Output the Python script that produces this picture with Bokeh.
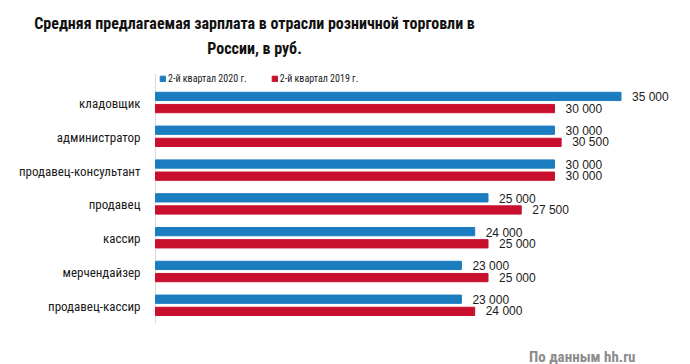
import numpy as np
from bokeh.plotting import figure
from bokeh.models import ColumnDataSource, Range1d, Label, Legend, LegendItem
from bokeh.core.properties import value
from bokeh.embed import file_html
from bokeh.resources import INLINE

categories = ["кладовщик", "администратор", "продавец-консультант", "продавец",
              "кассир", "мерчендайзер", "продавец-кассир"]
q2_2020 = [35000, 30000, 30000, 25000, 24000, 23000, 23000]
q2_2019 = [30000, 30500, 30000, 27500, 25000, 25000, 24000]
series_names = ["2-й квартал 2020 г.", "2-й квартал 2019 г."]

BLUE = "#1c7cc0"
RED = "#c8102e"
COND = "Roboto Condensed"
SANS = "Liberation Sans"

W, H = 690, 364
X0_PX, PX_PER_UNIT = 155, 0.0133     # axis position, px per rouble
TOP_CAT_PX, CAT_PX = 102, 33.8        # first category centre, px per category

n = len(categories)
ypos = np.arange(n)[::-1].astype(float)
off = 0.18

def fmt(v):
    return f"{v:,}".replace(",", " ")

src = ColumnDataSource(dict(
    cat=categories, y=ypos, x0=[0] * n,
    yb=ypos + off, yr=ypos - off,
    b=q2_2020, r=q2_2019,
    bl=[fmt(v) for v in q2_2020], rl=[fmt(v) for v in q2_2019],
))

x_rng = Range1d(-X0_PX / PX_PER_UNIT, (W - X0_PX) / PX_PER_UNIT)
y_top = (n - 1) + TOP_CAT_PX / CAT_PX
y_rng = Range1d(y_top - H / CAT_PX, y_top)

p = figure(width=W, height=H, output_backend="svg", toolbar_location=None,
           x_range=x_rng, y_range=y_rng, min_border=0)
p.axis.visible = False
p.grid.visible = False
p.outline_line_color = None

# vertical category axis line
p.segment(x0=[0], x1=[0], y0=[ypos.min() - 0.53], y1=[ypos.max() + 0.83],
          line_color="#d9d9d9", line_width=1)

rb = p.hbar(y="yb", right="b", left=0, height=0.245, source=src, color=BLUE)
rr = p.hbar(y="yr", right="r", left=0, height=0.245, source=src, color=RED)

p.text(x="b", y="yb", text="bl", source=src, x_offset=11, y_offset=1,
       text_baseline="middle", text_font=value(SANS),
       text_font_size="12px", text_color="#1a1a1a")
p.text(x="r", y="yr", text="rl", source=src, x_offset=11,
       text_baseline="middle", text_font=value(SANS),
       text_font_size="12px", text_color="#1a1a1a")
p.text(x="x0", y="y", text="cat", source=src, x_offset=-15, y_offset=1,
       text_align="right", text_baseline="middle", text_font=value(COND),
       text_font_size="13px", text_color="#1a1a1a")

legend = Legend(items=[LegendItem(label=series_names[0], renderers=[rb]),
                       LegendItem(label=series_names[1], renderers=[rr])],
                orientation="horizontal", location=(159, 364 - 84.5),
                glyph_width=7, glyph_height=7, label_height=12, label_standoff=2,
                spacing=24, padding=0, margin=0, border_line_color=None,
                background_fill_alpha=0, label_text_font=COND,
                label_text_font_size="10px", label_text_color="#1a1a1a")
p.add_layout(legend)

for txt, yy in [("Средняя предлагаемая зарплата в отрасли розничной торговли в", 364 - 23),
                ("России, в руб.", 364 - 48)]:
    p.add_layout(Label(x=254, y=yy, x_units="screen", y_units="screen", text=txt,
                       text_align="center", text_baseline="alphabetic",
                       text_font=COND, text_font_style="bold",
                       text_font_size="16px", text_color="#111111"))

p.add_layout(Label(x=635, y=364 - 356, x_units="screen", y_units="screen", text="По данным hh.ru",
                   text_align="right", text_baseline="alphabetic", text_font=COND,
                   text_font_style="bold", text_font_size="15px", text_color="#8c8c8c"))

open("out.html", "w").write(file_html(p, INLINE))
